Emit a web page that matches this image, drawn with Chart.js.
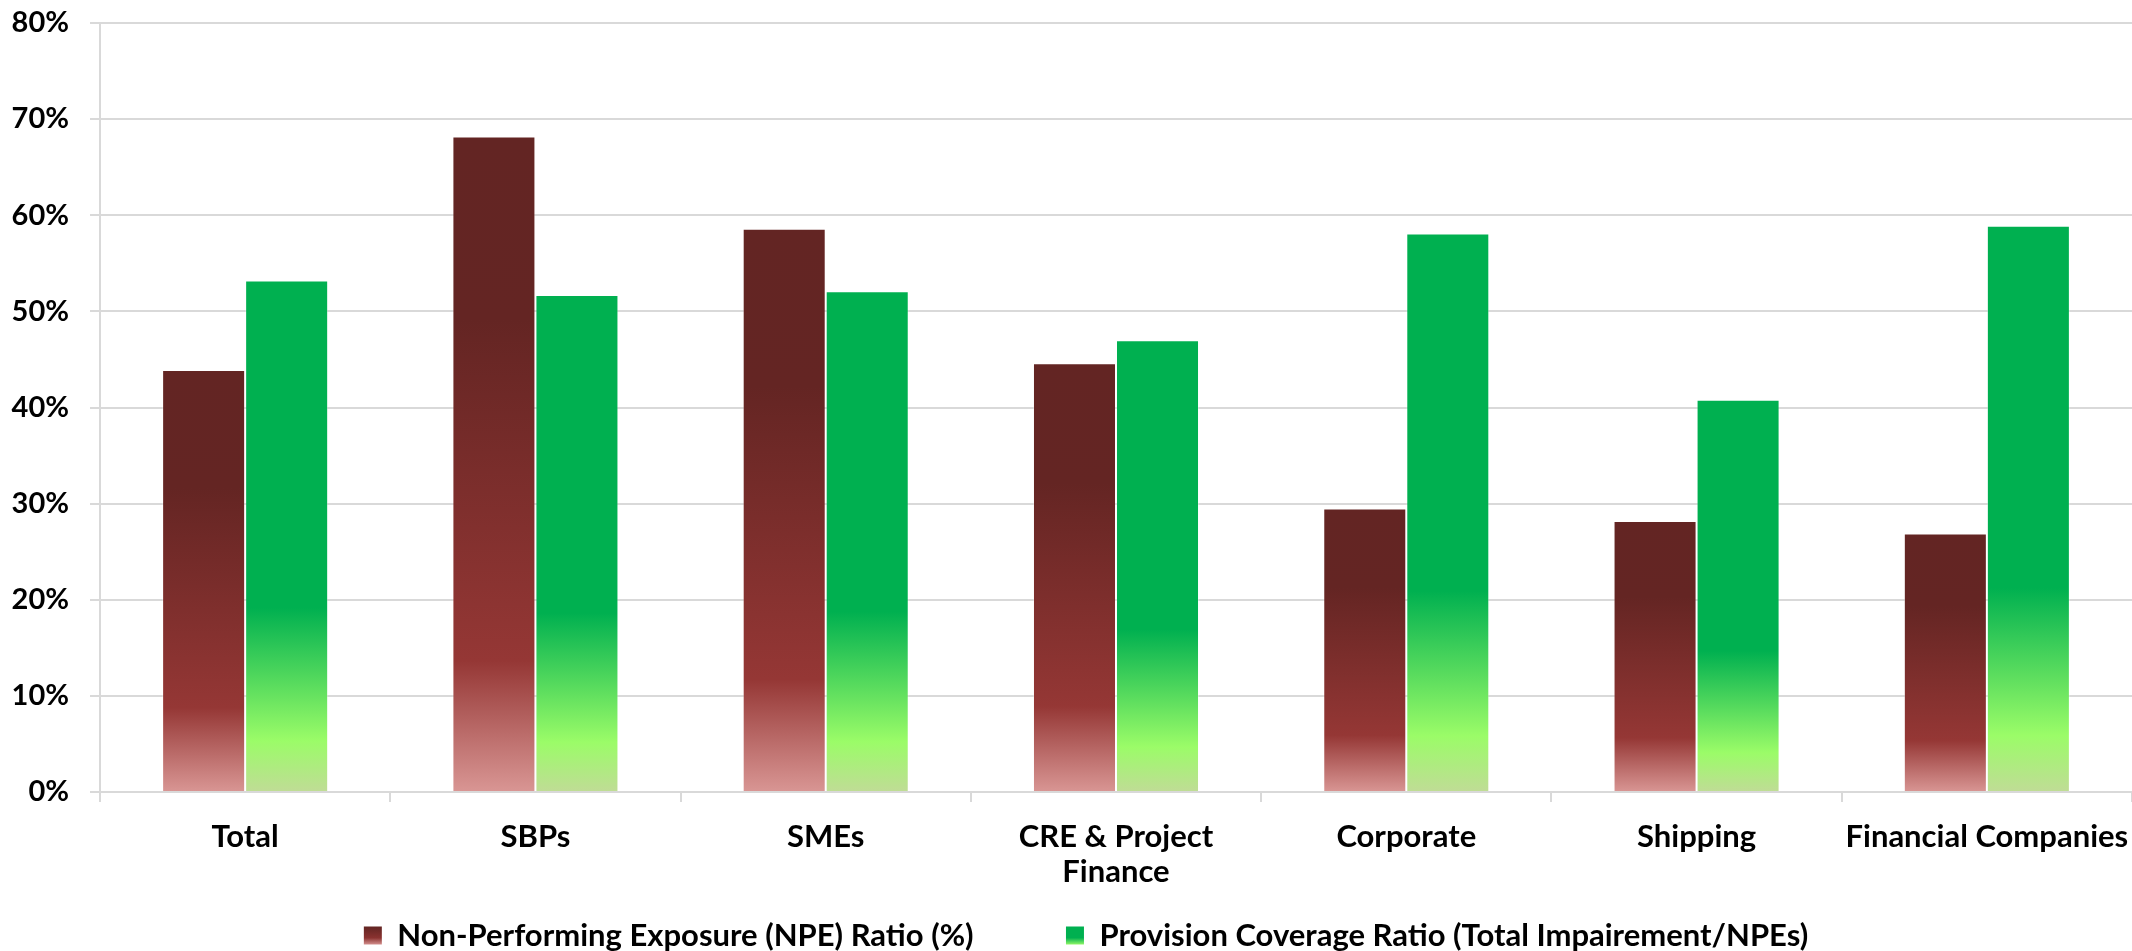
<!DOCTYPE html>
<html>
<head>
<meta charset="utf-8">
<script src="https://cdn.jsdelivr.net/npm/chart.js@4"></script>
<style>
    html, body { margin: 0; padding: 0; background: #fff; }
    #wrap { width: 2132px; height: 951px; }
</style>
</head>
<body>
<div id="wrap"><canvas id="npeChart"></canvas></div>
<script>
    // Sectors and the two ratios per sector (%)
    const categories = ['Total', 'SBPs', 'SMEs', ['CRE & Project', 'Finance'], 'Corporate', 'Shipping', 'Financial Companies'];
    const npeRatio = [43.9, 68.2, 58.6, 44.6, 29.5, 28.2, 26.9];
    const coverageRatio = [53.2, 51.7, 52.1, 47.0, 58.1, 40.8, 58.9];
    const yTicks = [0, 10, 20, 30, 40, 50, 60, 70, 80];
    const seriesNames = ['Non-Performing Exposure (NPE) Ratio (%)', 'Provision Coverage Ratio (Total Impairement/NPEs)'];

    // Gradient stops along each bar, from its top (0) down to the base (1)
    const redStops = [[0, '#632523'], [0.28, '#642523'], [0.8, '#953735'], [1, '#d99694']];
    const greenStops = [[0, '#00b050'], [0.64, '#00b050'], [0.9, '#9bfc68'], [1, '#c0dc96']];
    const redKey = [[0, '#632523'], [0.6, '#8a3230'], [1, '#d99694']];
    const greenKey = [[0, '#00b050'], [0.6, '#00b050'], [1, '#9bfc68']];

    const fontFamily = 'Lato';
    const labelFont = { family: fontFamily, size: 31, weight: 'bold' };
    const tickFont = { family: fontFamily, size: 29, weight: 'bold' };

    // Each bar gets its own vertical gradient, computed from the y scale
    function barGradient(stops) {
        return function (context) {
            const chart = context.chart;
            const yScale = chart.scales.y;
            if (!yScale || context.raw === undefined) return stops[0][1];
            const top = yScale.getPixelForValue(context.raw);
            const base = yScale.getPixelForValue(0);
            if (!isFinite(top) || !isFinite(base) || top === base) return stops[0][1];
            const g = chart.ctx.createLinearGradient(0, top, 0, base);
            stops.forEach(s => g.addColorStop(s[0], s[1]));
            return g;
        };
    }

    // Nudge the legend row a little to the right of centre
    const legendShift = {
        id: 'legendShift',
        afterLayout(chart) {
            if (chart.legend) {
                chart.legend.left += 20;
                chart.legend.right += 20;
            }
        },
    };

    const data = {
        labels: categories,
        datasets: [
            {
                label: seriesNames[0],
                data: npeRatio,
                backgroundColor: barGradient(redStops),
                borderColor: 'rgba(255, 255, 255, 0.35)',
                borderWidth: 1,
            },
            {
                label: seriesNames[1],
                data: coverageRatio,
                backgroundColor: barGradient(greenStops),
                borderColor: 'rgba(255, 255, 255, 0.35)',
                borderWidth: 1,
            },
        ],
    };

    const ctx = document.getElementById('npeChart').getContext('2d');
    const chart = new Chart(ctx, {
        type: 'bar',
        data: data,
        plugins: [legendShift],
        options: {
            responsive: true,
            maintainAspectRatio: false,
            animation: false,
            categoryPercentage: 0.572,
            barPercentage: 1,
            layout: { padding: { top: 23, right: 0, bottom: -10, left: 0 } },
            plugins: {
                tooltip: { enabled: true },
                legend: {
                    position: 'bottom',
                    labels: {
                        boxWidth: 18,
                        boxHeight: 18,
                        padding: 2,
                        color: '#000',
                        font: labelFont,
                        generateLabels(chart) {
                            const items = Chart.defaults.plugins.legend.labels.generateLabels(chart);
                            const c = chart.ctx;
                            c.save();
                            c.font = 'bold 31px ' + fontFamily;
                            const space = c.measureText(' ').width;
                            c.restore();
                            const boxTop = chart.height - 24;
                            items.forEach((item, i) => {
                                const g = c.createLinearGradient(0, boxTop, 0, boxTop + 18);
                                (i === 0 ? redKey : greenKey).forEach(s => g.addColorStop(s[0], s[1]));
                                item.fillStyle = g;
                                item.lineWidth = 0;
                                item.strokeStyle = 'rgba(0,0,0,0)';
                                // widen the gap between the two entries
                                if (i === 0) item.text += ' '.repeat(Math.round(94 / space));
                            });
                            return items;
                        },
                    },
                },
            },
            scales: {
                x: {
                    grid: {
                        drawOnChartArea: false,
                        drawTicks: true,
                        tickLength: 10,
                        color: '#d9d9d9',
                        lineWidth: 2,
                        offset: true,
                    },
                    border: { display: true, color: '#d9d9d9', width: 2 },
                    ticks: {
                        color: '#000',
                        font: Object.assign({ lineHeight: 1.15 }, labelFont),
                        padding: 17,
                        maxRotation: 0,
                        autoSkip: false,
                    },
                    afterFit(scale) {
                        scale.height = 126;
                        scale.paddingLeft = 0;
                        scale.paddingRight = 0;
                    },
                },
                y: {
                    min: 0,
                    max: 80,
                    grid: { color: '#d9d9d9', lineWidth: 2, tickLength: 10 },
                    border: { display: true, color: '#d9d9d9', width: 2 },
                    afterBuildTicks(axis) { axis.ticks = yTicks.map(v => ({ value: v })); },
                    ticks: {
                        color: '#000',
                        font: tickFont,
                        padding: 21,
                        callback: v => v + '%',
                    },
                    afterFit(scale) {
                        scale.width = 100;
                        scale.paddingTop = 0;
                        scale.paddingBottom = 0;
                    },
                },
            },
        },
    });
</script>
</body>
</html>
